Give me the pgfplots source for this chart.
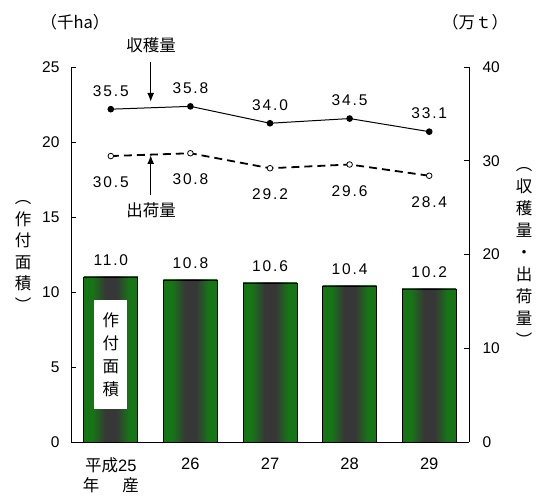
\documentclass[border=0pt]{standalone}
\usepackage{fontspec}
\usepackage{pgfplots}
\pgfplotsset{compat=1.18}
\usetikzlibrary{arrows.meta}
\setmainfont{Liberation Sans}
\newfontfamily\cjk{Noto Sans CJK JP}
\newfontfamily\numsp[LetterSpace=12]{Liberation Sans}
\definecolor{bargreen}{RGB}{22,118,22}
\definecolor{bardark}{RGB}{55,55,55}
\pgfdeclarehorizontalshading{barshade}{100bp}{color(0bp)=(bargreen); color(25bp)=(bargreen); color(33bp)=(bargreen); color(45bp)=(bardark); color(55bp)=(bardark); color(67bp)=(bargreen); color(75bp)=(bargreen); color(100bp)=(bargreen)}
\newcommand{\tfs}{\fontsize{15.5bp}{18bp}\selectfont}
\newcommand{\cfs}{\fontsize{16.5bp}{20bp}\selectfont}
\pgfplotsset{
  mybar/.style={ybar, bar width=54bp, bar shift=0pt, draw=black, line width=0.8bp, shade, shading=barshade,
  nodes near coords={\pgfmathprintnumber[fixed,fixed zerofill,precision=1]{\pgfplotspointmeta}},
  every node near coord/.append style={font=\numsp\tfs, anchor=south, yshift=8bp, /pgf/number format/assume math mode=true}}
}
\begin{document}
\begin{tikzpicture}[x=1bp,y=1bp]
\path[use as bounding box] (0,0) rectangle (539,504);
\begin{axis}[
  at={(71bp,62bp)}, anchor=south west, scale only axis,
  width=398bp, height=375bp,
  xmin=-0.5, xmax=4.5, ymin=0, ymax=25,
  axis x line*=bottom, axis y line*=left,
  axis line style={black, line width=0.8bp},
  ytick={0,5,10,15,20,25},
  xtick={0,1,2,3,4},
  xticklabels={{{\cjk 平成}25\\{\cjk 年\hspace{1.4em}産}},26,27,28,29},
  major x tick style={draw=none},
  tick align=inside, major tick length=5bp,
  tick style={black, line width=0.8bp},
  /pgf/number format/assume math mode=true,
  tick label style={font=\tfs},
  yticklabel style={xshift=-8bp},
  xticklabel style={align=center, yshift=-12bp, font=\cfs, text depth=0pt},
  clip=false,
]
\addplot[mybar] coordinates {(0,11.0)};
\addplot[mybar] coordinates {(1,10.8)};
\addplot[mybar] coordinates {(2,10.6)};
\addplot[mybar] coordinates {(3,10.4)};
\addplot[mybar] coordinates {(4,10.2)};
\node[fill=white, inner sep=0pt, minimum width=33bp, minimum height=109bp, align=center,
  font=\cjk\fontsize{16.5bp}{23bp}\selectfont] at (axis cs:0,5.8) {作\\付\\面\\積};
\end{axis}
\begin{axis}[
  at={(71bp,62bp)}, anchor=south west, scale only axis,
  width=398bp, height=375bp,
  xmin=-0.5, xmax=4.5, ymin=0, ymax=40,
  axis x line=none, axis y line*=right,
  axis line style={black, line width=0.8bp},
  ytick={0,10,20,30,40},
  tick align=inside, major tick length=5bp,
  tick style={black, line width=0.8bp},
  /pgf/number format/assume math mode=true,
  tick label style={font=\tfs},
  yticklabel style={xshift=10bp},
  clip=false,
]
\addplot[black, line width=1bp, mark=*, mark size=2.8bp,
  nodes near coords={\pgfmathprintnumber[fixed,fixed zerofill,precision=1]{\pgfplotspointmeta}},
  every node near coord/.append style={font=\numsp\tfs, anchor=south, yshift=9bp, /pgf/number format/assume math mode=true}]
  coordinates {(0,35.5) (1,35.8) (2,34.0) (3,34.5) (4,33.1)};
\addplot[black, line width=1.8bp, dash pattern=on 8bp off 5bp, mark=*,
  mark size=2.8bp, mark options={solid, fill=white, line width=0.8bp},
  nodes near coords={\pgfmathprintnumber[fixed,fixed zerofill,precision=1]{\pgfplotspointmeta}},
  every node near coord/.append style={font=\numsp\tfs, anchor=north, yshift=-17bp, /pgf/number format/assume math mode=true}]
  coordinates {(0,30.5) (1,30.8) (2,29.2) (3,29.6) (4,28.4)};
\end{axis}
% annotations
\node[font=\cjk\cfs] at (151,459) {収穫量};
\draw[line width=1.5bp, -{Latex[length=9bp,width=7bp]}] (150.7,442) -- (150.7,402);
\node[font=\cjk\cfs] at (151,294) {出荷量};
\draw[line width=1.5bp, -{Latex[length=9bp,width=7bp]}] (150.7,309) -- (150.7,349);
% units
\node[font=\cjk\cfs] at (75,482) {（千ha）};
\node[font=\cjk\cfs] at (475,482) {（万ｔ）};
% axis titles
\node[font=\cjk\fontsize{16.5bp}{21.5bp}\selectfont, align=center, inner sep=0pt] at (23,248) {︵\\作\\付\\面\\積\\︶};
\node[font=\cjk\fontsize{16.5bp}{22bp}\selectfont, align=center, inner sep=0pt] at (524,247.5) {︵\\収\\穫\\量\\・\\出\\荷\\量\\︶};
\end{tikzpicture}
\end{document}
